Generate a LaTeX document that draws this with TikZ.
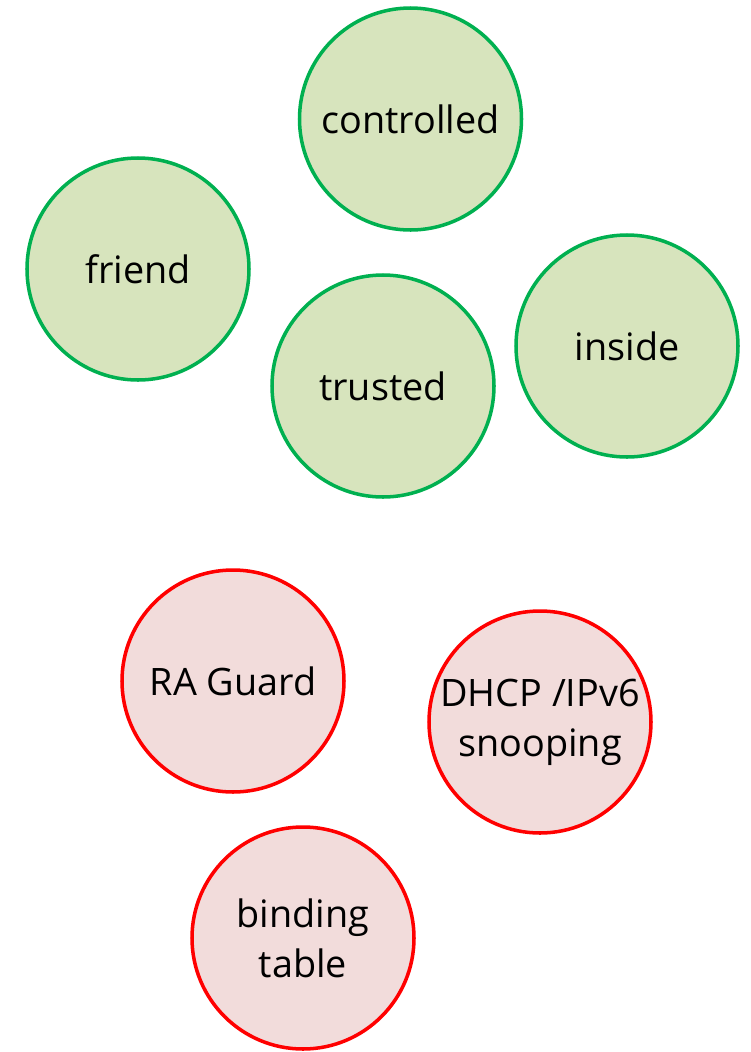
\documentclass[tikz,border=0pt]{standalone}
\usepackage{fontspec}
\setmainfont{Open Sans}
\definecolor{okfill}{HTML}{D7E4BD}
\definecolor{okline}{HTML}{00B050}
\definecolor{badfill}{HTML}{F2DCDB}
\definecolor{badline}{HTML}{FF0000}
\tikzset{
  bubble/.style={circle, minimum size=4.44cm, line width=2pt, align=center,
                 font=\fontsize{21.5}{28.5}\selectfont, inner sep=0pt},
  zone/.style={bubble, draw=okline, fill=okfill},
  guard/.style={bubble, draw=badline, fill=badfill}
}
\begin{document}
\begin{tikzpicture}
  \useasboundingbox (0,0) rectangle (15.02,-21.04);
  % zones
  \node[zone] (controlled) at (8.21,-2.38) {controlled};
  \node[zone] (friend) at (2.76,-5.38) {friend};
  \node[zone] (trusted) at (7.66,-7.72) {trusted};
  \node[zone] (inside) at (12.54,-6.92) {inside};
  % first hop security
  \node[guard] (raguard) at (4.66,-13.62) {RA Guard};
  \node[guard] (snooping) at (10.80,-14.44) {DHCP /IPv6\\snooping};
  \node[guard] (binding) at (6.06,-18.76) {binding\\table};
\end{tikzpicture}
\end{document}
